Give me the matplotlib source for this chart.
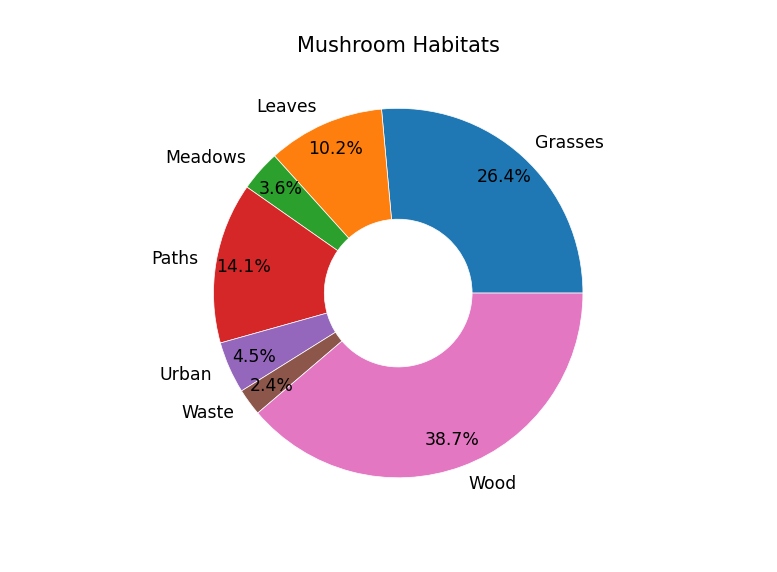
import matplotlib
matplotlib.use("Agg")
import matplotlib.pyplot as plt

# habitat counts from the mushroom data set
habitats = ["Grasses", "Leaves", "Meadows", "Paths", "Urban", "Waste", "Wood"]
counts = [2148, 832, 292, 1144, 368, 192, 3148]

fig = plt.figure(figsize=(7.77, 5.72), dpi=100)
ax = fig.add_axes([0.125, 0.084, 0.775, 0.8073])
ax.pie(counts, labels=habitats, autopct="%1.1f%%", pctdistance=0.85,
       wedgeprops=dict(width=0.6, edgecolor="white", linewidth=0.5),
       textprops=dict(fontsize=12.4))
ax.set_xlim(-1.25, 1.25)
ax.set_ylim(-1.25, 1.25)
ax.set_aspect("equal")
ax.set_title("Mushroom Habitats", fontsize=15, pad=7.5)
fig.savefig("out.png")
